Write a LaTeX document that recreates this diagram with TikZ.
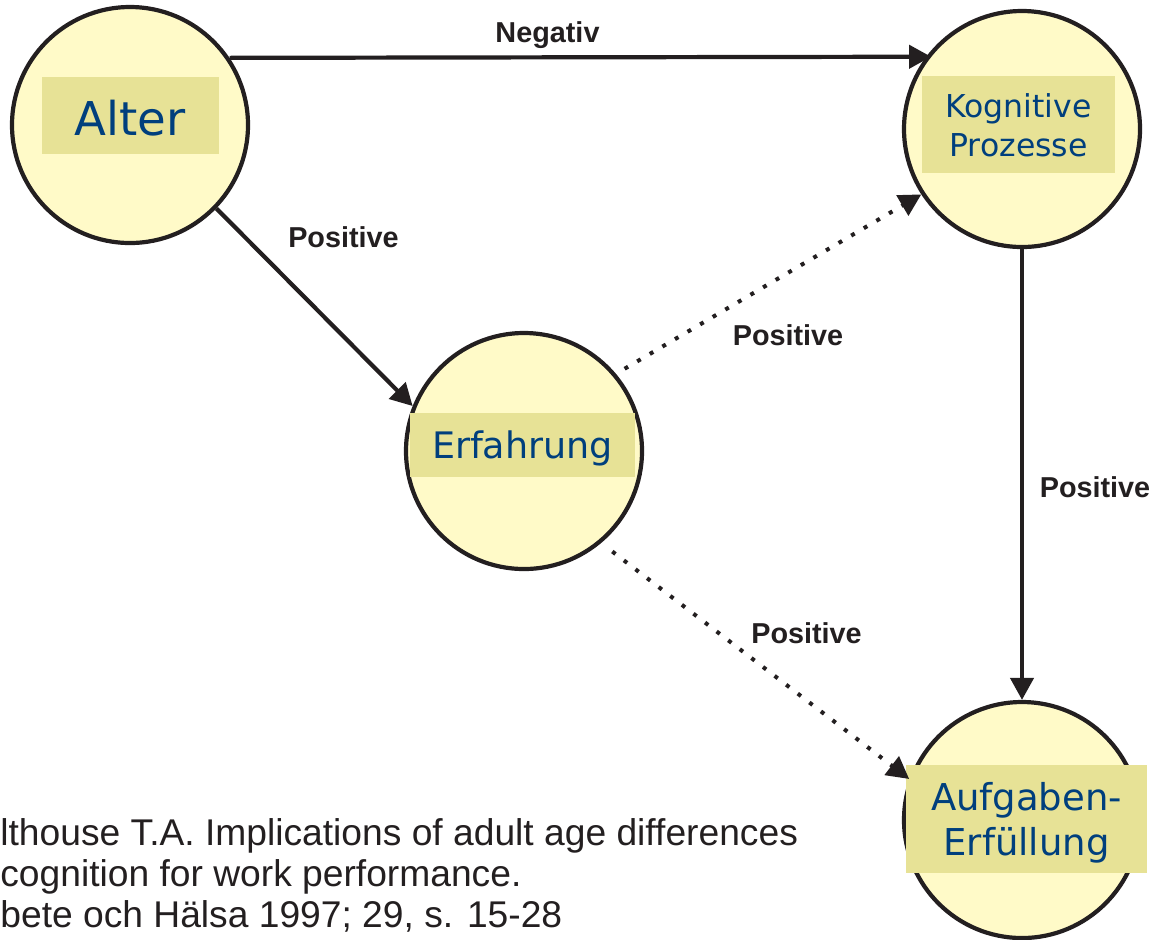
\documentclass[tikz,border=0pt]{standalone}
\usepackage{fontspec}
\setmainfont{Liberation Sans}
\newfontfamily\lblfont{DejaVu Sans}
\usetikzlibrary{arrows.meta}
\definecolor{circfill}{RGB}{255,250,200}
\definecolor{boxfill}{RGB}{231,226,150}
\definecolor{lblblue}{RGB}{0,63,125}
\definecolor{ink}{RGB}{35,31,32}
\begin{document}
\begin{tikzpicture}[x=0.5pt,y=-0.5pt,
  bubble/.style={circle, draw=ink, line width=2.1pt, fill=circfill, minimum size=118pt, inner sep=0pt},
  labelbox/.style={rectangle, fill=boxfill, inner sep=0pt},
  lbl/.style={text=lblblue, inner sep=0pt, align=center},
  rel/.style={font=\fontsize{14.4}{17}\selectfont\bfseries, text=ink, inner sep=0pt, anchor=base},
  link/.style={draw=ink, line width=2.1pt, -{Triangle[length=11pt,width=11.5pt]}},
  dotlink/.style={link, line width=2pt, dash pattern=on 2pt off 5.3pt}
]
\useasboundingbox (0,0) rectangle (1149,939);

% circles
\node[bubble] (alter) at (130,125) {};
\node[bubble] (kog) at (1022,129) {};
\node[bubble] (erf) at (524,451) {};
\node[bubble] (auf) at (1022,820) {};

% label boxes
\node[labelbox, minimum width=88.5pt, minimum height=38.5pt] (alterbox) at (130.5,115.5) {};
\node[labelbox, minimum width=96.5pt, minimum height=48.5pt] (kogbox) at (1018.5,124.5) {};
\node[labelbox, minimum width=112.5pt, minimum height=32pt] (erfbox) at (522.5,445) {};
\node[labelbox, minimum width=120.5pt, minimum height=54pt] (aufbox) at (1026.5,819) {};

% label texts
\node[lbl, anchor=base, font=\lblfont\fontsize{23.3}{28}\selectfont] (altertxt) at (130,135) {Alter};
\node[lbl, anchor=center, font=\lblfont\fontsize{15.75}{19.5}\selectfont] (kogtxt) at (1018.5,125.5) {Kognitive\\Prozesse};
\node[lbl, anchor=base, font=\lblfont\fontsize{18.25}{22}\selectfont] (erftxt) at (522.5,458) {Erfahrung};
\node[lbl, anchor=center, font=\lblfont\fontsize{18.5}{22.5}\selectfont] (auftxt) at (1026.5,823) {Aufgaben-\\Erfüllung};

% connectors
\draw[link, shorten >=-2.5pt] (alter.34.7) -- (kog.143.6);
\draw[link] (alter.-44) -- (erf.158);
\draw[dotlink, shorten <=5pt] (erf.40) -- (kog.-147);
\draw[link] (kog.south) -- (auf.north);
\draw[dotlink, shorten <=7pt] (erf.-50) -- (auf.160);

% connector labels
\node[rel] (lneg) at (547.5,42) {Negativ};
\node[rel] (lpos1) at (343.5,247) {Positive};
\node[rel] (lpos2) at (788,345) {Positive};
\node[rel] (lpos3) at (1095,497) {Positive};
\node[rel] (lpos4) at (806.5,643) {Positive};

% citation
\node[anchor=west, align=left, inner sep=0pt, text=ink, font=\fontsize{18.6}{20.5}\selectfont] (cite) at (0,875.5)
  {lthouse T.A. Implications of adult age differences\\cognition for work performance.\\bete och Hälsa 1997; 29, s. 15-28};
\end{tikzpicture}
\end{document}
